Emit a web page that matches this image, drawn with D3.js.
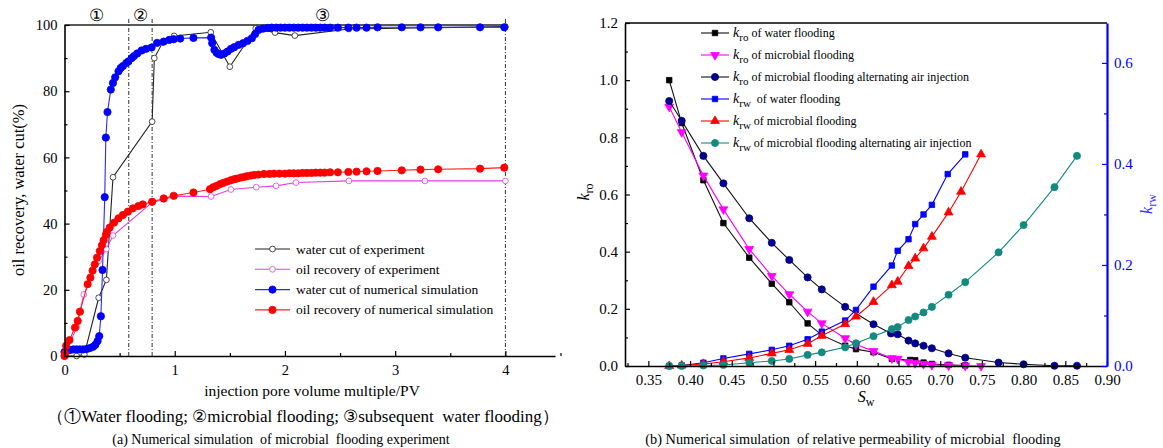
<!DOCTYPE html>
<html>
<head>
<meta charset="utf-8">
<script src="https://cdn.jsdelivr.net/npm/d3@7"></script>
<style>
body{margin:0;background:#fff;}
svg{font-family:"Liberation Serif","Times New Roman",serif;}
</style>
</head>
<body>
<script>
// ---- panel (a) data: [PV, %]
var cutExp = [[0,0],[0.11,0],[0.18,0.5],[0.31,17.6],[0.38,23],[0.44,54],[0.795,70.8],[0.815,90],[0.89,94.7],[0.994,96.7],[1.327,97.8],[1.50,87.4],[1.735,99.0],[1.91,97.7],[2.09,96.8],[2.58,98.8],[4.0,99.5]];
var recExp = [[0,0],[0.11,8.7],[0.175,18.6],[0.31,28.7],[0.38,32.3],[0.44,36.4],[0.795,46.4],[0.9,47.3],[1.0,48.3],[1.33,48.2],[1.51,50.3],[1.74,51],[1.92,51.4],[2.1,52.4],[2.58,52.9],[3.27,52.9],[4.0,52.9]];
var cutSim = [[0,1.2],[0.02,1.6],[0.05,1.8],[0.08,2.0],[0.11,2.0],[0.14,2.0],[0.17,2.0],[0.2,2.1],[0.23,2.4],[0.26,2.8],[0.28,3.4],[0.3,4.5],[0.315,6],[0.33,12],[0.345,26],[0.365,48],[0.375,66],[0.39,73.7],[0.42,80.5],[0.44,82.5],[0.46,84.2],[0.49,86],[0.51,87],[0.53,87.6],[0.56,88.5],[0.58,89],[0.61,90],[0.63,90.6],[0.66,91.4],[0.7,92.3],[0.74,92.8],[0.79,93.2],[0.84,94.6],[0.9,95],[0.95,95.5],[0.99,95.7],[1.05,95.9],[1.17,96.1],[1.33,96.2],[1.34,94.5],[1.36,92.5],[1.38,91.6],[1.40,91.2],[1.42,91],[1.45,91.4],[1.48,92],[1.51,92.8],[1.54,93.3],[1.58,94],[1.62,94.5],[1.66,95.2],[1.7,96],[1.73,97.3],[1.76,98.5],[1.8,98.9],[1.84,99.1],[1.88,99.2],[1.92,99.2],[1.96,99.2],[2.0,99.2],[2.04,99.2],[2.08,99.2],[2.12,99.2],[2.16,99.2],[2.2,99.2],[2.24,99.2],[2.28,99.2],[2.32,99.2],[2.36,99.2],[2.41,99.2],[2.48,99.2],[2.575,99.2],[2.65,99.2],[2.74,99.2],[2.84,99.3],[3.06,99.3],[3.23,99.3],[3.39,99.3],[3.77,99.3],[3.99,99.3]];
var recSim = [[0,0],[0.005,0.8],[0.015,3.1],[0.045,4.8],[0.095,8.6],[0.12,10.6],[0.14,13.4],[0.21,21.7],[0.235,23.7],[0.255,25.8],[0.275,27.7],[0.295,29.7],[0.32,31.7],[0.34,33.5],[0.355,35],[0.375,36.6],[0.385,37.5],[0.41,38.8],[0.45,40.3],[0.49,41.6],[0.53,42.6],[0.575,43.6],[0.62,44.6],[0.67,45.3],[0.71,45.8],[0.795,46.6],[0.9,47.6],[0.99,48.4],[1.17,49.4],[1.32,50.4],[1.35,51],[1.38,51.4],[1.41,51.9],[1.44,52.3],[1.475,52.7],[1.51,53.1],[1.54,53.4],[1.565,53.6],[1.6,53.9],[1.63,54.1],[1.655,54.3],[1.69,54.5],[1.72,54.7],[1.76,54.8],[1.81,55],[1.86,55],[1.9,55.1],[1.95,55.1],[2.0,55.1],[2.04,55.2],[2.08,55.2],[2.12,55.2],[2.16,55.3],[2.2,55.3],[2.24,55.3],[2.28,55.4],[2.32,55.4],[2.36,55.4],[2.41,55.5],[2.48,55.5],[2.575,55.6],[2.65,55.7],[2.74,55.8],[2.84,55.9],[3.06,56.1],[3.23,56.3],[3.39,56.4],[3.77,56.6],[3.99,56.9]];
var stageLines = [0.583, 0.795, 4];
var stageMarks = [["\u2460",0.29],["\u2461",0.69],["\u2462",2.34]];
var aXTicks = [0,1,2,3,4], aXMinor = [0.5,1.5,2.5,3.5,4.5];
var aYTicks = [0,20,40,60,80,100], aYMinor = [10,30,50,70,90];
var aLegend = ["water cut of experiment","oil recovery of experiment","water cut of numerical simulation","oil recovery of numerical simulation"];

// ---- panel (b) data: [Sw, k]
var kroWater = [[0.375,1.0],[0.39,0.85],[0.416,0.65],[0.44,0.50],[0.471,0.379],[0.498,0.288],[0.519,0.223],[0.541,0.149],[0.558,0.108],[0.586,0.071],[0.599,0.059],[0.62,0.048],[0.642,0.025],[0.664,0.021],[0.67,0.02],[0.68,0.012],[0.69,0.007],[0.71,0.004],[0.73,0.002]];
var kroMicro = [[0.375,0.907],[0.39,0.818],[0.416,0.666],[0.44,0.548],[0.471,0.409],[0.498,0.315],[0.519,0.251],[0.541,0.19],[0.558,0.149],[0.586,0.097],[0.599,0.075],[0.62,0.052],[0.642,0.027],[0.649,0.025],[0.662,0.014],[0.67,0.01],[0.68,0.007],[0.69,0.004],[0.71,0.002],[0.73,0.001],[0.749,0.0]];
var kroAir = [[0.375,0.927],[0.39,0.858],[0.416,0.735],[0.44,0.639],[0.471,0.517],[0.498,0.431],[0.519,0.371],[0.541,0.31],[0.558,0.268],[0.586,0.207],[0.62,0.146],[0.641,0.114],[0.649,0.111],[0.662,0.089],[0.67,0.079],[0.68,0.071],[0.69,0.062],[0.71,0.044],[0.73,0.029],[0.77,0.012],[0.80,0.006],[0.837,0.001],[0.864,0.001]];
var krwWater = [[0.375,0],[0.39,0.001],[0.416,0.0065],[0.44,0.015],[0.471,0.024],[0.498,0.032],[0.519,0.04],[0.541,0.053],[0.558,0.068],[0.586,0.09],[0.599,0.111],[0.62,0.157],[0.642,0.199],[0.649,0.228],[0.662,0.251],[0.67,0.281],[0.68,0.30],[0.69,0.319],[0.709,0.38],[0.73,0.419]];
var krwMicro = [[0.375,0],[0.39,0.001],[0.416,0.004],[0.44,0.0085],[0.471,0.016],[0.498,0.025],[0.519,0.032],[0.541,0.044],[0.558,0.06],[0.586,0.083],[0.599,0.098],[0.62,0.127],[0.642,0.16],[0.649,0.167],[0.662,0.198],[0.67,0.213],[0.68,0.233],[0.69,0.256],[0.71,0.304],[0.725,0.345],[0.749,0.419]];
var krwAir = [[0.375,0],[0.39,0],[0.416,0.001],[0.44,0.002],[0.471,0.0065],[0.498,0.01],[0.519,0.014],[0.541,0.022],[0.558,0.027],[0.586,0.037],[0.599,0.045],[0.62,0.059],[0.642,0.073],[0.649,0.077],[0.662,0.091],[0.67,0.098],[0.68,0.106],[0.69,0.117],[0.71,0.141],[0.73,0.166],[0.77,0.225],[0.80,0.279],[0.837,0.354],[0.864,0.416]];
var bXTicks = [0.35,0.40,0.45,0.50,0.55,0.60,0.65,0.70,0.75,0.80,0.85,0.90];
var bXMinor = [0.325,0.375,0.425,0.475,0.525,0.575,0.625,0.675,0.725,0.775,0.825,0.875];
var bYTicks = [0,0.2,0.4,0.6,0.8,1.0,1.2], bYMinor = [0.1,0.3,0.5,0.7,0.9,1.1];
var bRTicks = [0,0.2,0.4,0.6], bRMinor = [0.1,0.3,0.5];
var bLegend = [["ro"," of water flooding"],["ro"," of microbial flooding"],["ro"," of microbial flooding alternating air injection"],["rw","  of water flooding"],["rw"," of microbial flooding"],["rw"," of microbial flooding alternating air injection"]];

var svg = d3.select("body").append("svg").attr("width",1163).attr("height",448);

function styleAxis(g, col, w){
	g.select(".domain").attr("stroke",col).attr("stroke-width",w);
	g.selectAll(".tick line").attr("stroke",col).attr("stroke-width",1.2);
	g.selectAll(".tick text").attr("fill",col);
}

function sym(type, size){ return d3.symbol().type(type).size(size)(); }

function drawSeries(g, data, xs, ys, lineCol, mk){
	var line = d3.line().x(function(d){return xs(d[0]);}).y(function(d){return ys(d[1]);});
	g.append("path").datum(data).attr("d",line).attr("fill","none").attr("stroke",lineCol).attr("stroke-width",1.1);
	g.selectAll(null).data(data).enter().append("path")
		.attr("d",sym(mk.type,mk.size))
		.attr("transform",function(d){return "translate("+xs(d[0])+","+ys(d[1])+")"+(mk.rot?" rotate(180)":"");})
		.attr("fill",mk.fill).attr("stroke",mk.stroke).attr("stroke-width",mk.sw||0.8);
}

// ================= panel (a) =================
var ax = d3.scaleLinear().domain([0,4.45]).range([64.5,555]);
var ay = d3.scaleLinear().domain([0,100]).range([356,25]);
var ga = svg.append("g");

var aStyles = [
	{data:cutExp, line:"#222", mk:{type:d3.symbolCircle,size:26,fill:"#fff",stroke:"#222"}},
	{data:recExp, line:"#e040e0", mk:{type:d3.symbolCircle,size:26,fill:"#fff",stroke:"#e040e0"}},
	{data:cutSim, line:"#2a2aff", mk:{type:d3.symbolCircle,size:42,fill:"#0000ff",stroke:"#0000ff"}},
	{data:recSim, line:"#ff2020", mk:{type:d3.symbolCircle,size:42,fill:"#ff0000",stroke:"#ff0000"}}
];

// stage separators
ga.selectAll(null).data(stageLines).enter().append("line")
	.attr("x1",function(d){return ax(d);}).attr("x2",function(d){return ax(d);})
	.attr("y1",19).attr("y2",ay(0))
	.attr("stroke","#333").attr("stroke-width",1).attr("stroke-dasharray","4,2,1,2");
ga.append("line").attr("x1",ax(0)).attr("x2",ax(4)).attr("y1",ay(100)).attr("y2",ay(100))
	.attr("stroke","#222").attr("stroke-width",1.4);
ga.selectAll(null).data(stageMarks).enter().append("text")
	.attr("x",function(d){return ax(d[1]);}).attr("y",21)
	.attr("text-anchor","middle").attr("font-size",17).text(function(d){return d[0];});

aStyles.forEach(function(s){ drawSeries(ga, s.data, ax, ay, s.line, s.mk); });

var gax = ga.append("g").attr("transform","translate(0,"+ay(0)+")")
	.call(d3.axisBottom(ax).tickValues(aXTicks).tickFormat(d3.format("d")).tickSizeInner(-5).tickSizeOuter(0).tickPadding(9));
gax.selectAll("text").attr("font-size",14.5).attr("font-family","Liberation Serif");
styleAxis(gax,"#000",1.6);
var gaxm = ga.append("g").attr("transform","translate(0,"+ay(0)+")")
	.call(d3.axisBottom(ax).tickValues(aXMinor).tickFormat("").tickSizeInner(-3).tickSizeOuter(0));
gaxm.select(".domain").remove(); styleAxis(gaxm,"#000",1);

var gay = ga.append("g").attr("transform","translate("+ax(0)+",0)")
	.call(d3.axisLeft(ay).tickValues(aYTicks).tickFormat(d3.format("d")).tickSizeInner(-5).tickSizeOuter(0).tickPadding(7));
gay.selectAll("text").attr("font-size",14.5).attr("font-family","Liberation Serif");
styleAxis(gay,"#000",1.6);
var gaym = ga.append("g").attr("transform","translate("+ax(0)+",0)")
	.call(d3.axisLeft(ay).tickValues(aYMinor).tickFormat("").tickSizeInner(-3).tickSizeOuter(0));
gaym.select(".domain").remove(); styleAxis(gaym,"#000",1);

// legend (a)
aLegend.forEach(function(t,i){
	var y = 249 + i*20.3, s = aStyles[i];
	var lg = ga.append("g");
	lg.append("line").attr("x1",255).attr("x2",290).attr("y1",y).attr("y2",y).attr("stroke",s.line).attr("stroke-width",1.1);
	lg.append("path").attr("d",sym(s.mk.type,s.mk.size)).attr("transform","translate(272.5,"+y+")")
		.attr("fill",s.mk.fill).attr("stroke",s.mk.stroke).attr("stroke-width",0.8);
	lg.append("text").attr("x",296).attr("y",y+4.5).attr("font-size",13.5).text(t);
});

ga.append("text").attr("transform","translate(24,190) rotate(-90)").attr("text-anchor","middle")
	.attr("font-size",16.5).text("oil recovery, water cut(%)");
ga.append("text").attr("x",312).attr("y",396).attr("text-anchor","middle").attr("font-size",15.5)
	.text("injection pore volume multiple/PV");
ga.append("text").attr("x",303).attr("y",422).attr("text-anchor","middle").attr("font-size",17)
	.style("white-space","pre")
	.text("\uFF08\u2460Water flooding; \u2461microbial flooding; \u2462subsequent  water flooding\uFF09");
ga.append("text").attr("x",281).attr("y",444).attr("text-anchor","middle").attr("font-size",14)
	.style("white-space","pre")
	.text("(a) Numerical simulation  of microbial  flooding experiment");

// ================= panel (b) =================
var bx = d3.scaleLinear().domain([0.322,0.90]).range([625,1107]);
var by = d3.scaleLinear().domain([0,1.2]).range([366,23]);
var byr = d3.scaleLinear().domain([0,0.679]).range([366,23]);
var gb = svg.append("g");

var bStyles = [
	{data:kroWater, ys:by, line:"#111", mk:{type:d3.symbolSquare,size:30,fill:"#000",stroke:"#000"}},
	{data:kroMicro, ys:by, line:"#ff00ff", mk:{type:d3.symbolTriangle,size:34,fill:"#ff00ff",stroke:"#ff00ff",rot:true}},
	{data:kroAir, ys:by, line:"#111", mk:{type:d3.symbolCircle,size:40,fill:"#00008b",stroke:"#00008b"}},
	{data:krwWater, ys:byr, line:"#0000ff", mk:{type:d3.symbolSquare,size:30,fill:"#0000ff",stroke:"#0000ff"}},
	{data:krwMicro, ys:byr, line:"#ff0000", mk:{type:d3.symbolTriangle,size:34,fill:"#ff0000",stroke:"#ff0000"}},
	{data:krwAir, ys:byr, line:"#138a80", mk:{type:d3.symbolCircle,size:40,fill:"#138a80",stroke:"#138a80"}}
];

gb.append("line").attr("x1",bx(0.322)).attr("x2",bx(0.90)).attr("y1",by(1.2)).attr("y2",by(1.2))
	.attr("stroke","#000").attr("stroke-width",1.6);

bStyles.forEach(function(s){ drawSeries(gb, s.data, bx, s.ys, s.line, s.mk); });

var gbx = gb.append("g").attr("transform","translate(0,"+by(0)+")")
	.call(d3.axisBottom(bx).tickValues(bXTicks).tickFormat(d3.format(".2f")).tickSizeInner(-5).tickSizeOuter(0).tickPadding(8));
gbx.selectAll("text").attr("font-size",15).attr("font-family","Liberation Serif");
styleAxis(gbx,"#000",1.6);
var gbxm = gb.append("g").attr("transform","translate(0,"+by(0)+")")
	.call(d3.axisBottom(bx).tickValues(bXMinor).tickFormat("").tickSizeInner(-3).tickSizeOuter(0));
gbxm.select(".domain").remove(); styleAxis(gbxm,"#000",1);

var gby = gb.append("g").attr("transform","translate("+bx(0.322)+",0)")
	.call(d3.axisLeft(by).tickValues(bYTicks).tickFormat(d3.format(".1f")).tickSizeInner(-5).tickSizeOuter(0).tickPadding(7));
gby.selectAll("text").attr("font-size",15).attr("font-family","Liberation Serif");
styleAxis(gby,"#000",1.6);
var gbym = gb.append("g").attr("transform","translate("+bx(0.322)+",0)")
	.call(d3.axisLeft(by).tickValues(bYMinor).tickFormat("").tickSizeInner(-3).tickSizeOuter(0));
gbym.select(".domain").remove(); styleAxis(gbym,"#000",1);

var gbr = gb.append("g").attr("transform","translate("+bx(0.90)+",0)")
	.call(d3.axisRight(byr).tickValues(bRTicks).tickFormat(d3.format(".1f")).tickSizeInner(-5).tickSizeOuter(0).tickPadding(7));
gbr.selectAll("text").attr("font-size",15).attr("font-family","Liberation Serif");
styleAxis(gbr,"#0000ff",2.2);
var gbrm = gb.append("g").attr("transform","translate("+bx(0.90)+",0)")
	.call(d3.axisRight(byr).tickValues(bRMinor).tickFormat("").tickSizeInner(-3).tickSizeOuter(0));
gbrm.select(".domain").remove(); styleAxis(gbrm,"#0000ff",1);

// legend (b)
bLegend.forEach(function(t,i){
	var y = 33 + i*22, s = bStyles[i];
	var lg = gb.append("g");
	lg.append("line").attr("x1",701).attr("x2",729).attr("y1",y).attr("y2",y).attr("stroke",s.line).attr("stroke-width",1.1);
	lg.append("path").attr("d",sym(s.mk.type,s.mk.size))
		.attr("transform","translate(715,"+y+")"+(s.mk.rot?" rotate(180)":""))
		.attr("fill",s.mk.fill).attr("stroke",s.mk.stroke).attr("stroke-width",0.8);
	var tx = lg.append("text").attr("x",733).attr("y",y+4).attr("font-size",12).style("white-space","pre");
	tx.append("tspan").attr("font-style","italic").attr("font-size",14).text("k");
	tx.append("tspan").attr("dy",4).attr("font-size",11).text(t[0]);
	tx.append("tspan").attr("dy",-4).text(t[1]);
});

// axis titles (b)
var kro = gb.append("text").attr("transform","translate(589,192) rotate(-90)").attr("text-anchor","middle");
kro.append("tspan").attr("font-style","italic").attr("font-size",16).text("k");
kro.append("tspan").attr("dy",4).attr("font-size",12).text("ro");
var krw = gb.append("text").attr("transform","translate(1152,204) rotate(-90)").attr("text-anchor","middle").attr("fill","#3333ff");
krw.append("tspan").attr("font-style","italic").attr("font-size",16).text("k");
krw.append("tspan").attr("dy",4).attr("font-size",12).text("rw");
var sw = gb.append("text").attr("x",866).attr("y",402).attr("text-anchor","middle");
sw.append("tspan").attr("font-style","italic").attr("font-size",16).text("S");
sw.append("tspan").attr("dy",4).attr("font-size",12).text("w");

gb.append("text").attr("x",853).attr("y",448).attr("dy",-4).attr("text-anchor","middle").attr("font-size",14.3)
	.style("white-space","pre")
	.text("(b) Numerical simulation  of relative permeability of microbial  flooding");
</script>
</body>
</html>
